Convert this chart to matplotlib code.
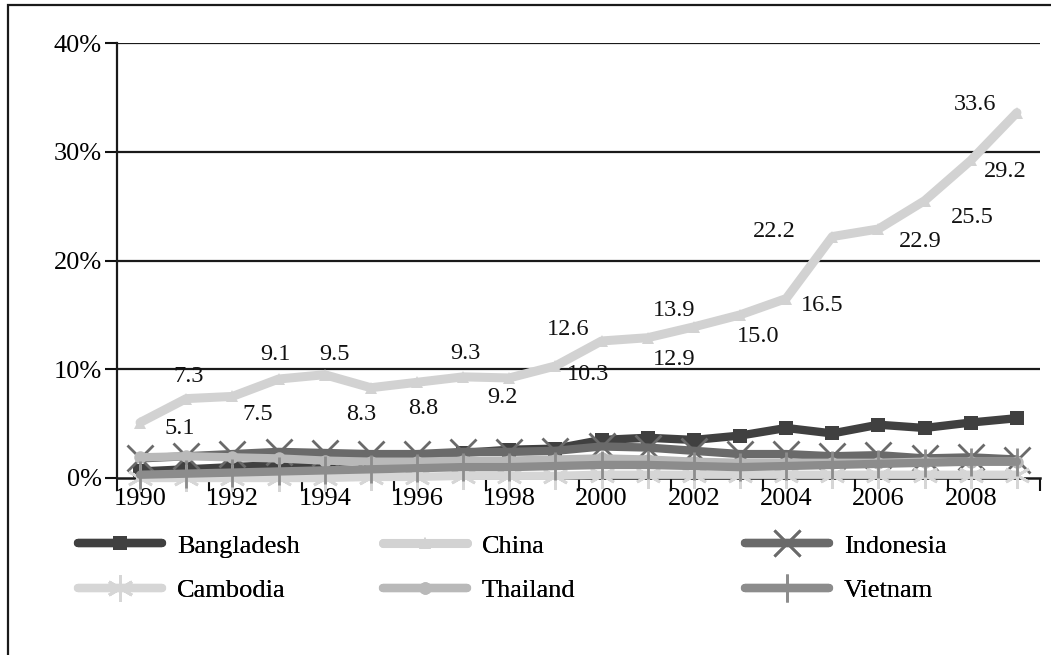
import matplotlib
matplotlib.use("Agg")
import matplotlib.pyplot as plt
from matplotlib.patches import Rectangle
from matplotlib.ticker import FixedLocator, FuncFormatter

plt.rcParams['font.family'] = ['Liberation Serif', 'DejaVu Serif']

years = list(range(1990, 2010))
bangladesh = [0.6, 0.8, 1.0, 1.2, 1.4, 1.7, 1.9, 2.3, 2.6, 2.7, 3.5, 3.7, 3.5, 3.9, 4.6, 4.1, 4.9, 4.6, 5.1, 5.5]
china = [5.1, 7.3, 7.5, 9.1, 9.5, 8.3, 8.8, 9.3, 9.2, 10.3, 12.6, 12.9, 13.9, 15.0, 16.5, 22.2, 22.9, 25.5, 29.2, 33.6]
indonesia = [1.8, 2.0, 2.2, 2.4, 2.3, 2.2, 2.2, 2.4, 2.4, 2.5, 2.9, 2.8, 2.5, 2.2, 2.2, 2.0, 2.1, 1.8, 1.9, 1.7]
cambodia = [0.0, 0.0, 0.0, 0.0, 0.0, 0.1, 0.1, 0.2, 0.2, 0.2, 0.3, 0.3, 0.3, 0.3, 0.3, 0.3, 0.3, 0.3, 0.3, 0.3]
thailand = [1.9, 2.0, 1.9, 1.8, 1.6, 1.5, 1.5, 1.6, 1.6, 1.7, 1.8, 1.7, 1.5, 1.4, 1.4, 1.4, 1.4, 1.5, 1.5, 1.5]
vietnam = [0.3, 0.4, 0.5, 0.6, 0.7, 0.8, 0.9, 1.0, 1.0, 1.1, 1.2, 1.2, 1.1, 1.0, 1.1, 1.2, 1.3, 1.4, 1.5, 1.5]
y_ticks = [0, 10, 20, 30, 40]
x_label_years = list(range(1990, 2009, 2))

# label offsets for China data labels (pixels, right / down)
label_offsets = [(40, 6), (2, -22), (25, 18), (-3, -25), (10, -20), (-10, 27), (6, 26),
                 (2, -23), (-7, 20), (33, 9), (-33, -11), (26, 22), (-20, -16), (18, 22),
                 (36, 7), (-58, -5), (42, 13), (48, 17), (34, 11), (-42, -8)]

W, H = 1051, 655
fig = plt.figure(figsize=(W / 100, H / 100), dpi=100)
ax = fig.add_axes([117 / W, 1 - 478 / H, (1040 - 117) / W, (478 - 43) / H])

FS = 19
DFS = 17.5
series = [
    ("Bangladesh", bangladesh, dict(color="#404040", marker="s", ms=10, mew=0, lw=6)),
    ("China", china, dict(color="#d2d2d2", marker="^", ms=9, mew=0, lw=6.5)),
    ("Indonesia", indonesia, dict(color="#6a6a6a", marker="x", ms=19, mew=2.0, lw=6)),
    ("Cambodia", cambodia, dict(color="#d6d6d6", marker=(6, 2, 0), ms=19, mew=2.0, lw=6)),
    ("Thailand", thailand, dict(color="#b9b9b9", marker="o", ms=9, mew=0, lw=6)),
    ("Vietnam", vietnam, dict(color="#8c8c8c", marker="|", ms=20, mew=2.0, lw=6)),
]
handles = []
for name, vals, st in series:
    h, = ax.plot(years, vals, label=name, solid_capstyle="round", solid_joinstyle="round",
                 clip_on=False, zorder=3, **st)
    handles.append(h)

for yr, v, (dx, dy) in zip(years, china, label_offsets):
    ax.annotate(f"{v:.1f}", (yr, v), xytext=(dx * 0.72, -dy * 0.72), textcoords="offset points",
                ha="center", va="center", fontsize=DFS, color="#111111", zorder=5)

ax.set_xlim(1989.5, 2009.5)
ax.set_ylim(0, 40)
ax.yaxis.set_major_locator(FixedLocator(y_ticks))
ax.yaxis.set_major_formatter(FuncFormatter(lambda v, p: f"{int(v)}%"))
ax.xaxis.set_major_locator(FixedLocator(x_label_years))
ax.xaxis.set_minor_locator(FixedLocator([y + 0.5 for y in range(1989, 2010, 2)]))
ax.tick_params(axis="x", which="major", length=0, pad=7, labelsize=FS)
ax.tick_params(axis="x", which="minor", length=9, width=1.5, direction="out", color="#111111")
ax.tick_params(axis="y", which="major", length=9, width=1.5, direction="out", pad=2, labelsize=FS,
               color="#111111")
for yv in y_ticks[1:]:
    ax.axhline(yv, color="#1a1a1a", lw=1.6, zorder=1)
for s in ["top", "right"]:
    ax.spines[s].set_visible(False)
ax.spines["left"].set_linewidth(1.6)
ax.spines["bottom"].set_linewidth(1.8)
ax.spines["left"].set_color("#1a1a1a")
ax.spines["bottom"].set_color("#1a1a1a")
ax.spines["bottom"].set_zorder(2)

# legend in three columns
col_x = [78, 383, 745]
for i, cx in enumerate(col_x):
    hs = [handles[i], handles[i + 3]]
    leg = fig.legend(hs, [h.get_label() for h in hs], loc="center left",
                     bbox_to_anchor=(cx / W, 1 - 568 / H), frameon=False, fontsize=FS,
                     handlelength=3.2, handletextpad=0.55, labelspacing=0.78, borderpad=0,
                     borderaxespad=0, numpoints=1)
    fig.add_artist(leg)

fig.patches.append(Rectangle((8 / W, -0.05), 1.2, 1.05 - 5 / H, transform=fig.transFigure,
                             fill=False, lw=1.6, edgecolor="#1a1a1a"))

fig.savefig("out.png", dpi=100)
